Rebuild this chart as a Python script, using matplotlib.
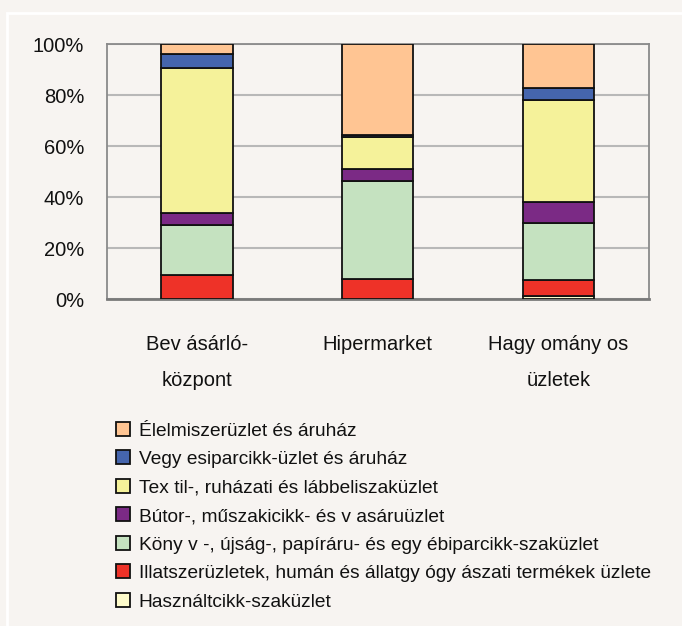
import matplotlib
matplotlib.use("Agg")
import matplotlib.pyplot as plt
from matplotlib.patches import Rectangle
import numpy as np

plt.rcParams['font.family'] = ['Liberation Sans Narrow', 'Liberation Sans', 'DejaVu Sans']

categories = ["Bev ásárló-\nközpont", "Hipermarket", "Hagy omány os\nüzletek"]
series_names = [
    "Használtcikk-szaküzlet",
    "Illatszerüzletek, humán és állatgy ógy ászati termékek üzlete",
    "Köny v -, újság-, papíráru- és egy ébiparcikk-szaküzlet",
    "Bútor-, műszakicikk- és v asáruüzlet",
    "Tex til-, ruházati és lábbeliszaküzlet",
    "Vegy esiparcikk-üzlet és áruház",
    "Élelmiszerüzlet és áruház",
]
hasznalt = [0.0, 0.0, 1.3]
illatszer = [9.5, 8.1, 6.3]
konyv = [19.6, 38.2, 22.4]
butor = [4.6, 4.7, 8.1]
textil = [57.0, 12.7, 40.0]
vegyes = [5.4, 0.6, 4.5]
elelmiszer = [3.9, 35.7, 17.4]
yticks = [0, 20, 40, 60, 80, 100]
ytick_labels = ["0%", "20%", "40%", "60%", "80%", "100%"]

colors = ["#FFFCCB", "#EE3228", "#C5E2C0", "#7B2A85", "#F5F29A", "#4565AD", "#FFC593"]
series = [hasznalt, illatszer, konyv, butor, textil, vegyes, elelmiszer]

bg = "#F7F4F1"
W, H = 682, 626
fig = plt.figure(figsize=(W / 100, H / 100), dpi=100, facecolor=bg)
fig.patches.append(Rectangle((7 / W, -0.1), 1.2, 1 - 13 / H + 0.1, transform=fig.transFigure,
                             facecolor=bg, edgecolor="white", lw=2, zorder=-5))

ax = fig.add_axes([106.5 / W, 1 - 299.3 / H, (648.7 - 106.5) / W, (299.3 - 44) / H])
ax.set_facecolor(bg)
x = np.arange(len(categories))
bottom = np.zeros(len(categories))
handles = []
for name, vals, c in zip(series_names, series, colors):
    v = np.array(vals, dtype=float)
    b = ax.bar(x, v, 0.396, bottom=bottom, color=c, edgecolor="#111111", linewidth=1.3,
               label=name, zorder=3)
    handles.append(b)
    bottom += v

ax.set_xlim(-0.5, 2.5)
ax.set_ylim(0, 100)
ax.set_yticks(yticks)
ax.set_yticklabels(ytick_labels)
ax.set_xticks(x)
ax.set_xticklabels(categories, linespacing=2.14, va="top")
ax.tick_params(axis="both", length=0, labelsize=14.5, colors="#111111")
ax.tick_params(axis="y", pad=16)
ax.tick_params(axis="x", pad=25.5)
ax.yaxis.grid(True, color="#B8B8B8", lw=1.5, zorder=1)
for s in ["left", "right", "top"]:
    ax.spines[s].set_color("#8A8A8A")
    ax.spines[s].set_linewidth(1.3)
ax.spines["bottom"].set_color("#7A7A7A")
ax.spines["bottom"].set_linewidth(2)

leg = fig.legend(handles[::-1], series_names[::-1], loc="upper left",
                 bbox_to_anchor=(116 / W, 1 - 422 / H), frameon=False,
                 fontsize=13.8, handlelength=0.74, handleheight=0.74,
                 handletextpad=0.45, labelspacing=0.565, borderpad=0, borderaxespad=0)
for t in leg.get_texts():
    t.set_color("#111111")

fig.savefig("out.png", dpi=100, facecolor=bg)
